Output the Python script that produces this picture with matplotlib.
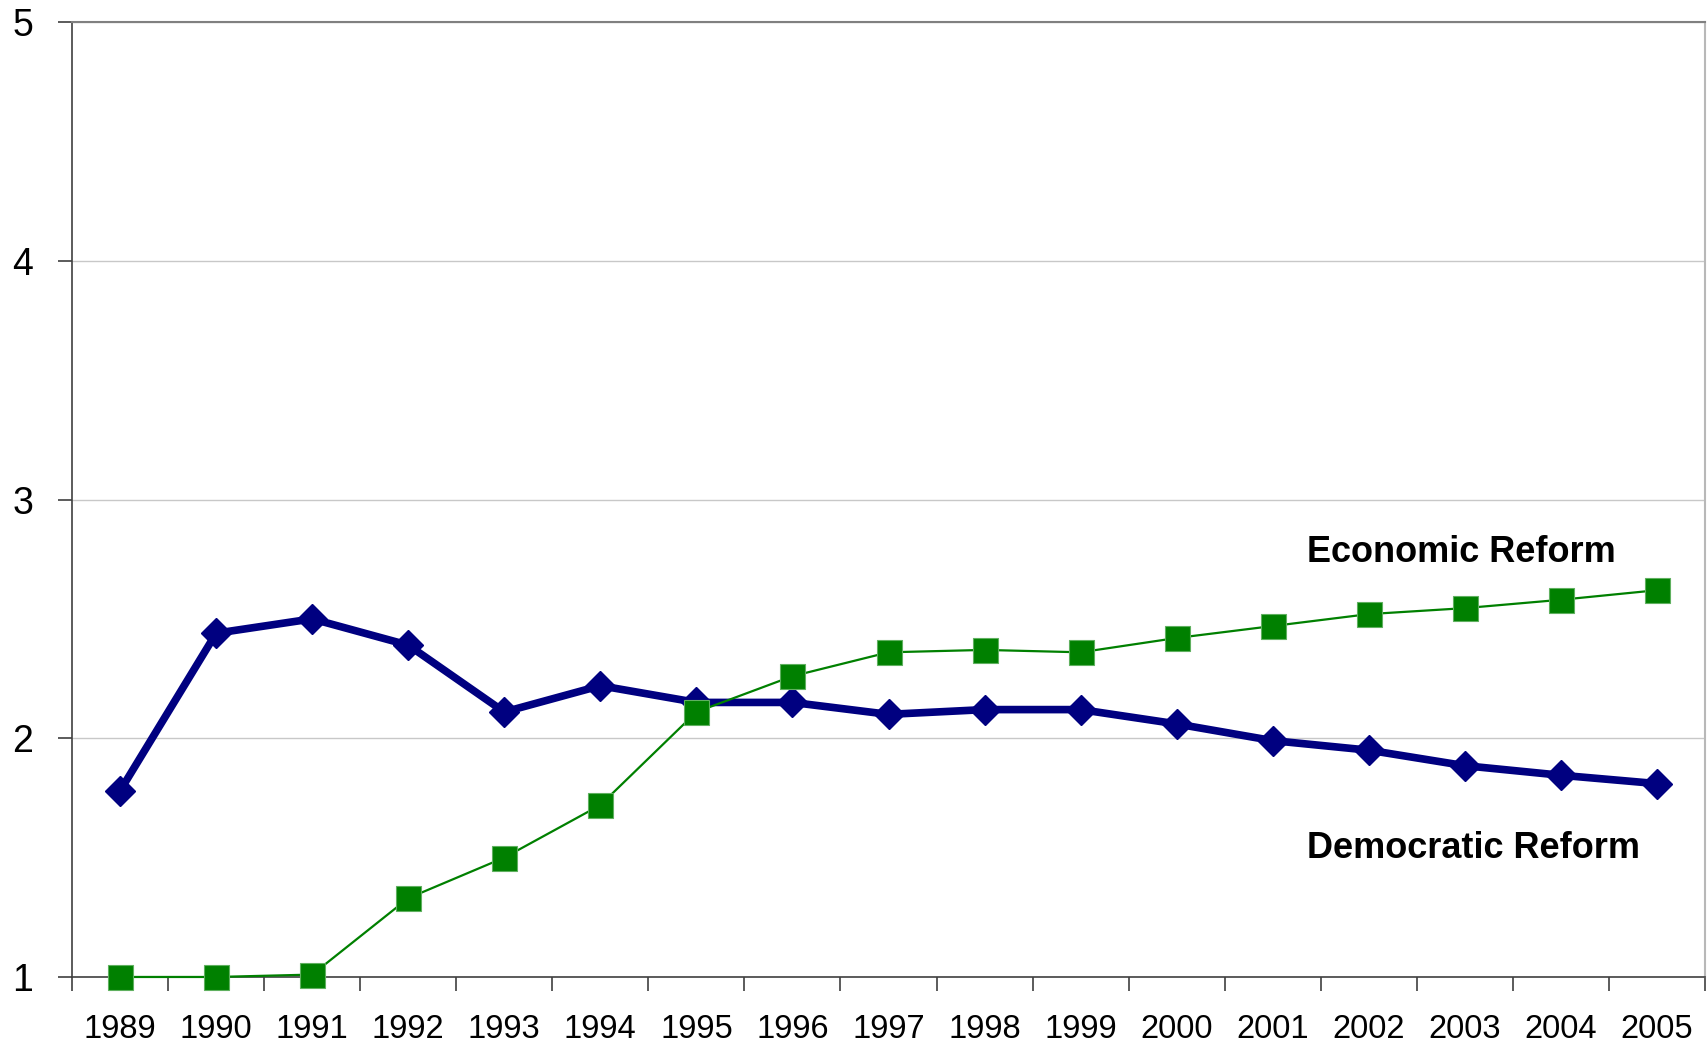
import matplotlib
matplotlib.use("Agg")
import matplotlib.pyplot as plt
import numpy as np

years = [str(y) for y in range(1989, 2006)]
democratic = [1.78, 2.44, 2.50, 2.39, 2.11, 2.22, 2.15, 2.15, 2.10, 2.12, 2.12,
              2.06, 1.99, 1.95, 1.885, 1.845, 1.81]
economic = [1.00, 1.00, 1.01, 1.33, 1.50, 1.72, 2.11, 2.26, 2.36, 2.37, 2.36,
            2.42, 2.47, 2.52, 2.545, 2.58, 2.62]

plt.rcParams['font.family'] = ['Liberation Sans', 'DejaVu Sans']

fig = plt.figure(figsize=(17.08, 10.45), dpi=100)
ax = fig.add_axes([0.0422, 0.0651, 0.9560, 0.9138])

x = np.arange(len(years))
ax.plot(x, democratic, color='#000080', linewidth=5.5, marker='D', markersize=15,
        zorder=3, clip_on=False)
ax.plot(x, economic, color='#008000', linewidth=1.6, marker='s', markersize=18,
        markeredgecolor='#5fb05f', markeredgewidth=0.8, zorder=4, clip_on=False)

ax.set_xlim(-0.5, len(years) - 0.5)
ax.set_ylim(1, 5)
ax.set_yticks([1, 2, 3, 4, 5])
ax.yaxis.grid(True, color='#c8c8c8', linewidth=1)
ax.set_axisbelow(True)

# year labels centered, tick marks on the category boundaries
ax.set_xticks(x)
ax.set_xticklabels(years, fontsize=23.5)
ax.set_xticks(np.arange(-0.5, len(years)), minor=True)
ax.tick_params(axis='x', which='major', length=0, pad=27)
ax.tick_params(axis='x', which='minor', length=10, width=1.2, color='#404040',
               direction='out')
ax.tick_params(axis='y', length=10, width=1.2, color='#404040', labelsize=27,
               pad=18)

for side in ['left', 'bottom']:
    ax.spines[side].set_color('#404040')
    ax.spines[side].set_linewidth(1.2)
ax.spines['top'].set_color('#808080')
ax.spines['top'].set_linewidth(1.5)
ax.spines['right'].set_color('#b8b8b8')
ax.spines['right'].set_linewidth(1.5)

ax.text(12.36, 2.776, 'Economic Reform', fontsize=26, fontweight='bold',
        ha='left', va='center')
ax.text(12.36, 1.54, 'Democratic Reform', fontsize=26, fontweight='bold',
        ha='left', va='center')

fig.savefig('out.png', dpi=100)
